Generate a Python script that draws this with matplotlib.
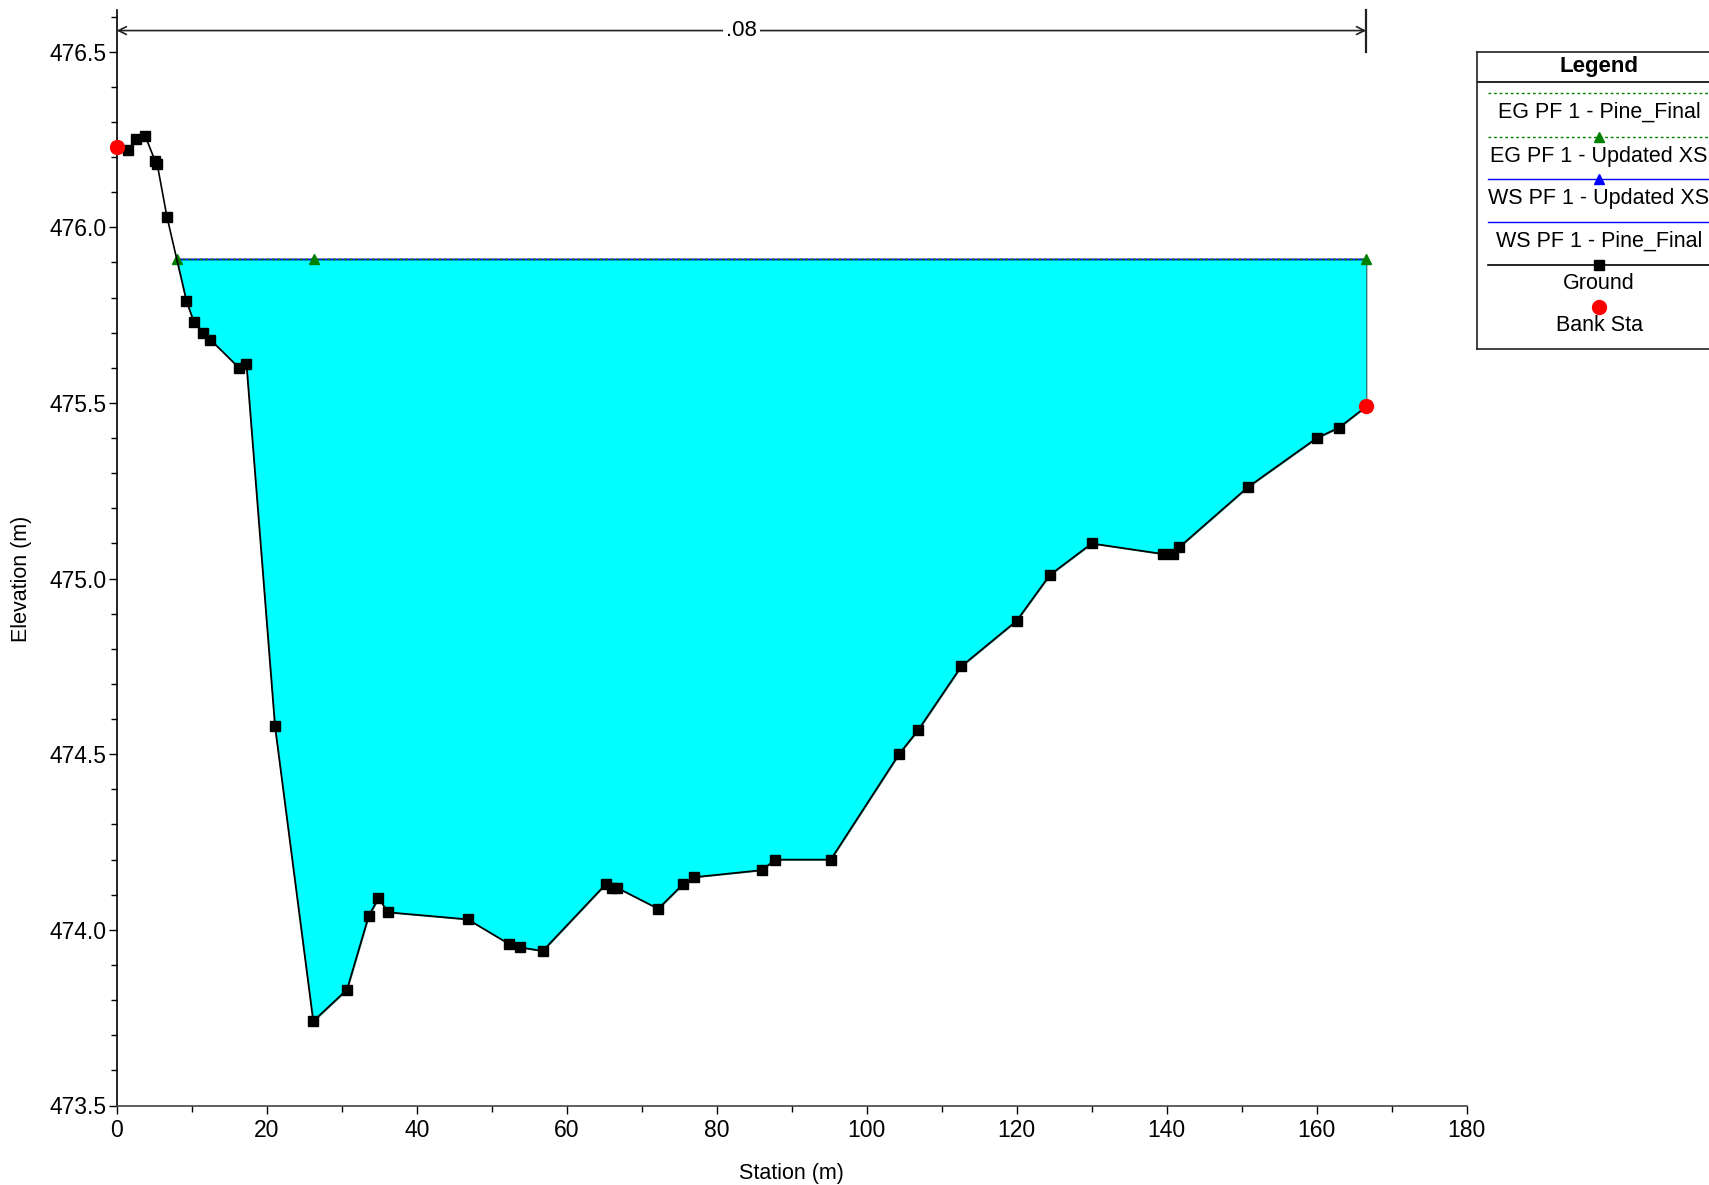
import matplotlib as mpl
mpl.use("Agg")
import matplotlib.pyplot as plt
from matplotlib.ticker import MultipleLocator
import numpy as np

plt.rcParams['font.family'] = ['Liberation Sans', 'DejaVu Sans']

# --- ground survey (station m, elevation m) ---
ground_x = [0.0, 1.45, 2.6, 3.8, 5.1, 5.4, 6.7, 9.3, 10.3, 11.5, 12.5, 16.3, 17.3,
            21.1, 26.2, 30.7, 33.6, 34.9, 36.2, 46.8, 52.3, 53.8, 56.8, 65.2, 66.0,
            66.7, 72.2, 75.5, 77.0, 86.0, 87.8, 95.2, 104.3, 106.9, 112.6, 120.0,
            124.4, 130.0, 139.5, 140.8, 141.7, 150.8, 160.0, 163.0, 166.6]
ground_y = [476.23, 476.22, 476.25, 476.26, 476.19, 476.18, 476.03, 475.79, 475.73,
            475.70, 475.68, 475.60, 475.61, 474.58, 473.74, 473.83, 474.04, 474.09,
            474.05, 474.03, 473.96, 473.95, 473.94, 474.13, 474.12, 474.12, 474.06,
            474.13, 474.15, 474.17, 474.20, 474.20, 474.50, 474.57, 474.75, 474.88,
            475.01, 475.10, 475.07, 475.07, 475.09, 475.26, 475.40, 475.43, 475.49]

# bank stations
bank_x = [0.0, 166.6]
bank_y = [476.23, 475.49]

# water surface / energy grade (both plans identical)
ws_elev = 475.91
ws_x = [8.0, 26.3, 166.6]   # left edge, mid marker, right edge

# manning n over the section
n_label = ".08"
n_x = [0.0, 166.6]
n_y = 476.56

fig = plt.figure(figsize=(17.09, 11.85), dpi=100)
ax = fig.add_axes([116.7 / 1709, 79.5 / 1185, 1350 / 1709, 1096 / 1185])

# water fill
gx = np.array(ground_x)
gy = np.array(ground_y)
inside = (gx > ws_x[0]) & (gx <= ws_x[-1])
fx = np.concatenate([[ws_x[0]], gx[inside]])
fy = np.concatenate([[ws_elev], gy[inside]])
ax.fill_between(fx, fy, ws_elev, facecolor='#00FFFF', edgecolor='#2f7f7f',
                linewidth=1.0, zorder=1)

wsx = [ws_x[0], ws_x[-1]]
ax.plot(wsx, [ws_elev] * 2, color='blue', lw=1.0, zorder=2)
ax.plot(wsx, [ws_elev] * 2, color='blue', lw=1.0, zorder=2)
ax.plot(wsx, [ws_elev] * 2, color='green', lw=1.0, ls=(0, (2, 2)), zorder=3)
ax.plot(ws_x, [ws_elev] * 3, color='green', lw=1.0, ls=(0, (2, 2)),
        marker='^', ms=7, mec='green', mfc='green', zorder=3, clip_on=False)

# ground
ax.plot(ground_x, ground_y, color='black', lw=1.2, marker='s', ms=6.5,
        mfc='black', mec='black', zorder=4, clip_on=False)
ax.plot(bank_x, bank_y, ls='none', marker='o', ms=10, color='red', zorder=5,
        clip_on=False)

# n-value dimension line
ax.annotate('', xy=(n_x[0], n_y), xytext=(n_x[1], n_y),
            arrowprops=dict(arrowstyle='<->', color='#222222', lw=1.2,
                            mutation_scale=14, shrinkA=0, shrinkB=0))
ax.plot([n_x[1], n_x[1]], [476.5, 476.62], color='#222222', lw=1.6, clip_on=False)
ax.text(sum(n_x) / 2, n_y, n_label, ha='center', va='center', fontsize=16,
        bbox=dict(boxstyle='square,pad=0.15', fc='white', ec='none'))

ax.set_xlim(0, 180)
ax.set_ylim(473.5, 476.62)
ax.xaxis.set_major_locator(MultipleLocator(20))
ax.xaxis.set_minor_locator(MultipleLocator(10))
ax.yaxis.set_major_locator(MultipleLocator(0.5))
ax.yaxis.set_minor_locator(MultipleLocator(0.1))
ax.yaxis.set_major_formatter(mpl.ticker.FormatStrFormatter('%.1f'))
ax.tick_params(which='major', length=6, width=1, labelsize=16.5)
ax.tick_params(which='minor', length=4.5, width=1)
ax.tick_params(axis='x', which='major', pad=4)
ax.tick_params(axis='y', which='major', pad=1)
for s in ['top', 'right']:
    ax.spines[s].set_visible(False)
ax.spines['left'].set_linewidth(1.2)
ax.spines['bottom'].set_linewidth(1.2)
ax.spines['bottom'].set_color('#444444')
ax.set_xlabel('Station (m)', fontsize=15.5, labelpad=14.5)
ax.set_ylabel('Elevation (m)', fontsize=15.5, labelpad=13)
ax.yaxis.label.set_y((475.0 - 473.5) / (476.62 - 473.5))

# legend box (sample line above each label)
lg = fig.add_axes([1477.3 / 1709, (1185 - 349.3) / 1185, 300 / 1709, 297.6 / 1185])
lg.set_xlim(1477.3, 1777.3)
lg.set_ylim(349.3, 51.7)
lg.set_xticks([])
lg.set_yticks([])
for s in lg.spines.values():
    s.set_linewidth(1.2)
    s.set_color('#222222')
lg.axhline(81.7, color='black', lw=1.2)
lg.text(1599, 66.5, 'Legend', ha='center', va='center', fontsize=16, fontweight='bold')
lx = [1488, 1599, 1790]
entries = [
    ('EG PF 1 - Pine_Final', 93.3, 111.7, dict(color='green', ls=(0, (2, 2)), lw=1.0)),
    ('EG PF 1 - Updated XS', 137.3, 156.7, dict(color='green', ls=(0, (2, 2)), lw=1.0,
                                                marker='^', ms=7, markevery=[1])),
    ('WS PF 1 - Updated XS', 179.3, 198.3, dict(color='blue', lw=1.0,
                                                marker='^', ms=7, markevery=[1])),
    ('WS PF 1 - Pine_Final', 222.0, 241.0, dict(color='blue', lw=1.0)),
    ('Ground', 265.0, 284.0, dict(color='black', lw=1.2, marker='s', ms=6.5,
                                  markevery=[1])),
]
for label, yl, yt, style in entries:
    lg.plot(lx, [yl] * 3, **style)
    lg.text(1599, yt, label, ha='center', va='center', fontsize=15.5)
lg.plot([1599], [306.7], ls='none', marker='o', ms=10, color='red')
lg.text(1599, 325.7, 'Bank Sta', ha='center', va='center', fontsize=15.5)

fig.savefig('out.png', dpi=100)
